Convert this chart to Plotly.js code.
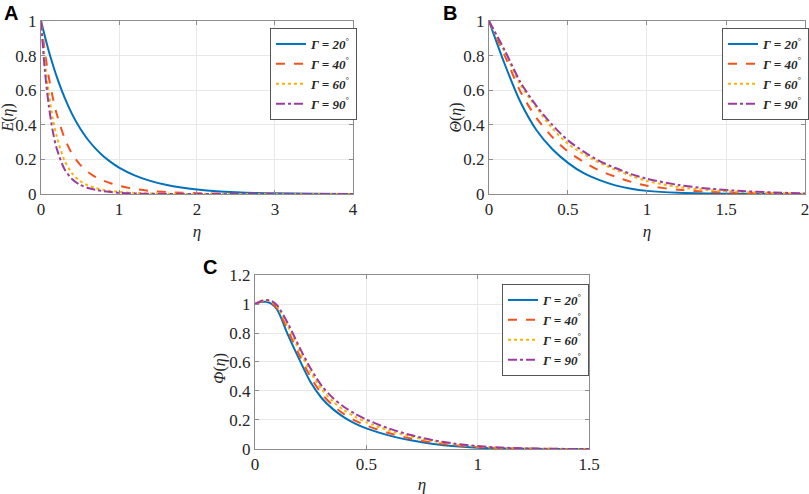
<!DOCTYPE html>
<html>
<head>
<meta charset="utf-8">
<script src="https://cdn.plot.ly/plotly-3.0.1.min.js"></script>
<style>
  html, body { margin: 0; padding: 0; background: #fff; }
  #fig { width: 809px; height: 494px; }
</style>
</head>
<body>
<div id="fig"></div>
<script>
// legend names
const gammas = ["20", "40", "60", "90"];

// panel A: E(eta)
const etaA = [0, 0.05, 0.1, 0.15, 0.2, 0.3, 0.4, 0.5, 0.6, 0.7, 0.8, 0.9, 1, 1.2, 1.4, 1.6, 1.8, 2, 2.25, 2.5, 2.75, 3, 3.5, 4];
const eA20 = [1, 0.91, 0.825, 0.75, 0.68, 0.56, 0.46, 0.38, 0.315, 0.262, 0.218, 0.183, 0.153, 0.108, 0.076, 0.053, 0.037, 0.026, 0.016, 0.01, 0.006, 0.004, 0.0015, 0.0005];
const eA40 = [1, 0.82, 0.675, 0.56, 0.465, 0.325, 0.23, 0.17, 0.128, 0.098, 0.077, 0.061, 0.048, 0.029, 0.018, 0.011, 0.007, 0.0045, 0.0025, 0.0015, 0.001, 0.0005, 0.0002, 0];
const eA60 = [1, 0.76, 0.58, 0.44, 0.335, 0.195, 0.118, 0.075, 0.05, 0.034, 0.024, 0.017, 0.012, 0.006, 0.003, 0.0015, 0.0008, 0.0004, 0.0002, 0, 0, 0, 0, 0];
const eA90 = [1, 0.71, 0.51, 0.365, 0.265, 0.145, 0.085, 0.053, 0.035, 0.024, 0.016, 0.011, 0.007, 0.003, 0.0013, 0.0006, 0.0003, 0.0001, 0, 0, 0, 0, 0, 0];

// panel B: Theta(eta)
const etaB = [0, 0.1, 0.2, 0.3, 0.4, 0.5, 0.6, 0.7, 0.8, 0.9, 1, 1.2, 1.4, 1.6, 1.8, 2];
const tB20 = [1, 0.75, 0.53, 0.37, 0.26, 0.18, 0.12, 0.08, 0.05, 0.03, 0.018, 0.007, 0.003, 0.001, 0.0005, 0];
const tB40 = [1, 0.8, 0.59, 0.44, 0.33, 0.245, 0.185, 0.135, 0.1, 0.07, 0.048, 0.024, 0.012, 0.006, 0.003, 0];
const tB60 = [1, 0.82, 0.63, 0.5, 0.38, 0.29, 0.23, 0.18, 0.14, 0.105, 0.075, 0.04, 0.022, 0.012, 0.006, 0.002];
const tB90 = [1, 0.83, 0.645, 0.51, 0.4, 0.31, 0.245, 0.19, 0.15, 0.115, 0.088, 0.052, 0.03, 0.017, 0.009, 0.003];

// panel C: Phi(eta)
const etaC = [0, 0.025, 0.05, 0.075, 0.1, 0.15, 0.2, 0.25, 0.3, 0.35, 0.4, 0.45, 0.5, 0.6, 0.7, 0.8, 0.9, 1, 1.1, 1.2, 1.3, 1.4, 1.5];
const pC20 = [1, 1.013, 1.015, 1.0, 0.96, 0.78, 0.615, 0.46, 0.35, 0.275, 0.218, 0.175, 0.142, 0.094, 0.06, 0.035, 0.019, 0.009, 0.004, 0.0015, 0.0006, 0.0002, 0];
const pC40 = [1, 1.016, 1.02, 1.008, 0.97, 0.81, 0.645, 0.495, 0.38, 0.3, 0.24, 0.196, 0.162, 0.11, 0.072, 0.044, 0.025, 0.013, 0.006, 0.0025, 0.001, 0.0004, 0];
const pC60 = [1, 1.018, 1.025, 1.015, 0.98, 0.84, 0.675, 0.53, 0.41, 0.328, 0.268, 0.222, 0.185, 0.128, 0.086, 0.054, 0.032, 0.017, 0.008, 0.0035, 0.0015, 0.0005, 0];
const pC90 = [1, 1.02, 1.028, 1.02, 0.99, 0.86, 0.7, 0.555, 0.435, 0.352, 0.29, 0.242, 0.203, 0.142, 0.096, 0.061, 0.036, 0.02, 0.01, 0.0045, 0.002, 0.0007, 0];

const styles = [
  { color: "#0072bd", dash: "solid" },
  { color: "#f4511e", dash: "dash" },
  { color: "#f7b500", dash: "dot" },
  { color: "#9c3aa4", dash: "dashdot" },
];

const serif = "Liberation Serif, serif";
const traces = [];
const panels = [
  { x: etaA, ys: [eA20, eA40, eA60, eA90], xa: "x", ya: "y", lg: "legend" },
  { x: etaB, ys: [tB20, tB40, tB60, tB90], xa: "x2", ya: "y2", lg: "legend2" },
  { x: etaC, ys: [pC20, pC40, pC60, pC90], xa: "x3", ya: "y3", lg: "legend3" },
];
panels.forEach((p) => {
  p.ys.forEach((y, i) => {
    traces.push({
      x: p.x,
      y: y,
      xaxis: p.xa,
      yaxis: p.ya,
      legend: p.lg,
      type: "scatter",
      mode: "lines",
      name: "<b><i>Γ = " + gammas[i] + "</i></b><sup>°</sup>",
      line: { color: styles[i].color, dash: styles[i].dash, width: 2, shape: "spline", smoothing: 0.8 },
    });
  });
});

const ax = (extra) => ({
  showline: true,
  mirror: "ticks",
  linecolor: "#8c8c8c",
  linewidth: 1,
  ticks: "inside",
  ticklen: 4,
  tickcolor: "#8c8c8c",
  showgrid: true,
  gridcolor: "#e8e8e8",
  zeroline: false,
  ticklabeloverflow: "allow",
  tickfont: { family: serif, size: 17, color: "#262626" },
  ...extra,
});
const xt = (t) => ({ text: t, font: { family: serif, size: 17, color: "#262626" }, standoff: 6 });
const legendBox = (x, y) => ({
  x: x,
  y: y,
  xanchor: "left",
  yanchor: "top",
  bgcolor: "#fff",
  bordercolor: "#555",
  borderwidth: 1,
  font: { family: serif, size: 13, color: "#262626" },
  tracegroupgap: 0,
  itemwidth: 30,
});
const letter = (t, x, y) => ({
  text: "<b>" + t + "</b>",
  x: x,
  y: y,
  xref: "paper",
  yref: "paper",
  xanchor: "center",
  yanchor: "middle",
  showarrow: false,
  font: { family: "Liberation Sans, Arial, sans-serif", size: 20, color: "#000" },
});
// rotated y-axis titles, placed like the reference
const ytitle = (t, x, y) => ({
  text: t,
  x: x,
  y: y,
  xref: "paper",
  yref: "paper",
  xanchor: "center",
  yanchor: "middle",
  textangle: -90,
  showarrow: false,
  font: { family: serif, size: 16, color: "#262626" },
});

const layout = {
  width: 809,
  height: 494,
  margin: { l: 0, r: 0, t: 0, b: 0 },
  paper_bgcolor: "#fff",
  plot_bgcolor: "#fff",
  showlegend: true,
  xaxis: ax({ domain: [0.0507, 0.4363], range: [0, 4], dtick: 1, anchor: "y", title: xt("<i>η</i>") }),
  yaxis: ax({ domain: [0.6073, 0.9575], range: [0, 1], dtick: 0.2, anchor: "x" }),
  xaxis2: ax({ domain: [0.6044, 0.9951], range: [0, 2], dtick: 0.5, anchor: "y2", title: xt("<i>η</i>") }),
  yaxis2: ax({ domain: [0.6073, 0.9575], range: [0, 1], dtick: 0.2, anchor: "x2" }),
  xaxis3: ax({ domain: [0.3152, 0.7281], range: [0, 1.5], dtick: 0.5, anchor: "y3", title: xt("<i>η</i>") }),
  yaxis3: ax({ domain: [0.0911, 0.4433], range: [0, 1.2], dtick: 0.2, anchor: "x3" }),
  legend: legendBox(0.3337, 0.9433),
  legend2: legendBox(0.8925, 0.9433),
  legend3: legendBox(0.6205, 0.4251),
  annotations: [
    letter("A", 0.0136, 0.974),
    letter("B", 0.556, 0.974),
    letter("C", 0.26, 0.4595),
    ytitle("<i>E</i>(<i>η</i>)", 0.0105, 0.761),
    ytitle("<i>Θ</i>(<i>η</i>)", 0.5643, 0.761),
    ytitle("<i>Φ</i>(<i>η</i>)", 0.2715, 0.255),
  ],
};

Plotly.newPlot("fig", traces, layout, { displayModeBar: false, staticPlot: true });
</script>
</body>
</html>
